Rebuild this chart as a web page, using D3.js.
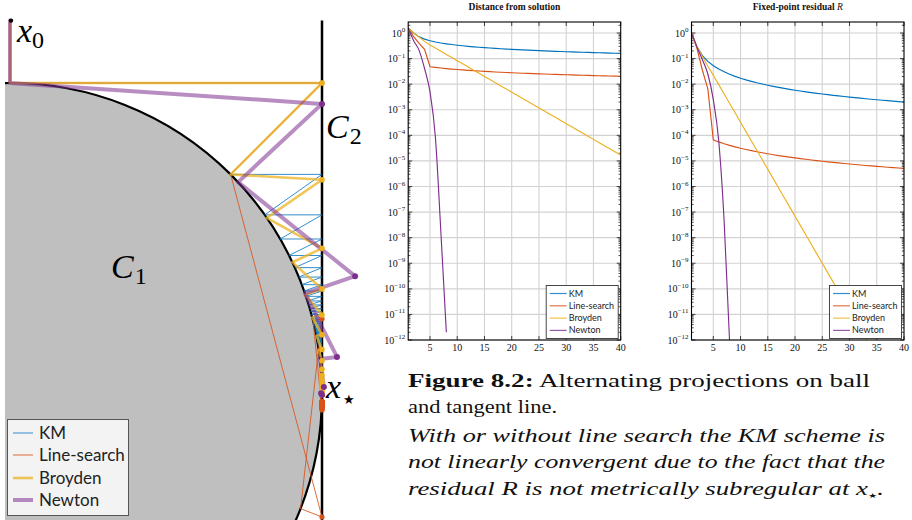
<!DOCTYPE html>
<html><head><meta charset="utf-8">
<script src="https://cdn.jsdelivr.net/npm/d3@7"></script>
<style>
body{margin:0;background:#fff}
svg{display:block}
</style>
</head><body>
<svg id="fig" width="912" height="520"></svg>
<script>
// ---------------- data ----------------
const methods = ["KM", "Line-search", "Broyden", "Newton"];
const colors  = ["#0072BD", "#D95319", "#EDB120", "#7E2F8E"];

// distance from solution, per iteration (iteration 1 = starting point)
const distKM = [1.562, 1.000, .7071, .5774, .5000, .4472, .4082, .3780, .3536, .3333,
  .3162, .3015, .2887, .2774, .2673, .2582, .2500, .2425, .2357, .2294,
  .2236, .2182, .2132, .2085, .2041, .2000, .1961, .1925, .1890, .1857,
  .1826, .1796, .1768, .1741, .1715, .1690, .1667, .1644, .1622, .1601];
const distLineSearch = [1.562, 0.72, 0.39, 0.23, 0.048, .04516, .04277, .04073, .03895, .03738,
  .0360, .03475, .03363, .0326, .03167, .03081, .03002, .02929, .0286, .02797,
  .02737, .02681, .02628, .02579, .02532, .02487, .02445, .02405, .02367, .0233,
  .02295, .02262, .0223, .022, .0217, .02142, .02115, .02089, .02064, .02039];
const distBroyden = [1.562, 1.0, 0.69, 0.47, 0.34, .2564, .1932, .1456, .1096, .0826,
  .0622, .0469, .0353, .0266, .02004, .0151, .01138, .00857, .00646, .00486,
  .00366, .00276, .00208, .001567, .00118, .000889, .00067, .000505, .00038, .000286,
  .000216, .0001626, .0001225, 9.23e-5, 6.95e-5, 5.24e-5, 3.94e-5, 2.97e-5, 2.24e-5, 1.69e-5];
const distNewton = [1.562, 0.5, 0.21, 0.041, 0.005, 8e-5, 1.6e-8, 2e-12];

// fixed-point residual R, per iteration
const resKM = [1.02, .293, .130, .0774, .0528, .0390, .0303, .0244, .0202, .0171,
  .0147, .0128, .0113, .0101, .00906, .0082, .00746, .00683, .00629, .00581,
  .00539, .00501, .00468, .00439, .00412, .00388, .00366, .00347, .00329, .00312,
  .00297, .00283, .0027, .00258, .00247, .00236, .00227, .00218, .00209, .00201];
const resLineSearch = [1.02, 0.25, 0.035, 0.0065, 6.64e-5, 5.53e-5, 4.69e-5, 4.05e-5, 3.55e-5, 3.13e-5,
  2.80e-5, 2.52e-5, 2.28e-5, 2.08e-5, 1.91e-5, 1.75e-5, 1.62e-5, 1.51e-5, 1.40e-5, 1.31e-5,
  1.23e-5, 1.16e-5, 1.09e-5, 1.03e-5, 9.74e-6, 9.23e-6, 8.77e-6, 8.35e-6, 7.96e-6, 7.59e-6,
  7.25e-6, 6.94e-6, 6.65e-6, 6.39e-6, 6.13e-6, 5.90e-6, 5.68e-6, 5.47e-6, 5.27e-6, 5.09e-6];
const resBroyden = [1.02, 0.293, 0.12, 0.05, 0.0224, 9.61e-3, 4.12e-3, 1.768e-3, 7.59e-4, 3.255e-4,
  1.396e-4, 5.99e-5, 2.57e-5, 1.103e-5, 4.73e-6, 2.03e-6, 8.71e-7, 3.74e-7, 1.603e-7, 6.88e-8,
  2.95e-8, 1.266e-8, 5.43e-9, 2.33e-9, 1.0e-9, 4.29e-10, 1.84e-10, 7.9e-11, 3.39e-11, 1.454e-11,
  6.24e-12, 2.68e-12, 1.15e-12, 4.93e-13, 2.11e-13, 9.1e-14, 3.9e-14, 1.68e-14, 7.2e-15, 3.1e-15];
const resNewton = [1.02, 0.28, 0.09, 0.025, 2.5e-3, 6e-5, 4e-8, 8e-13];

const yTickExponents = [0, -1, -2, -3, -4, -5, -6, -7, -8, -9, -10, -11, -12];
const xTickValues = [5, 10, 15, 20, 25, 30, 35, 40];

// iterates in the plane: ball C1 = unit disc, C2 = tangent line x = 1
const startPoint = [0, 1.2];
const kmHeights = distKM.slice(1);               // KM iterates lie on C2 at these heights
const broydenHeights = distBroyden.slice(1);     // Broyden iterates on C2
const lineSearchHeights = [1.0, -0.391, 0.244].concat(distLineSearch.slice(4).map(d => -d));
const newtonIterates = [[1, 0.933], [1.106, 0.381], [1.048, 0.122], [1.006, 0.026], [0.997, 0.006], [1, 0]];

// ---------------- figure ----------------
const svg = d3.select("#fig");
const serif = "'Liberation Serif', 'DejaVu Serif', serif";
const sans = "Lato, 'Open Sans', sans-serif";

// ===== left panel: alternating projections =====
const px = d3.scaleLinear().domain([0, 1]).range([10, 322]);
const py = d3.scaleLinear().domain([0, 1]).range([395, 83]);

svg.append("clipPath").attr("id", "panelClip")
  .append("rect").attr("x", 5).attr("y", 0).attr("width", 380).attr("height", 520);
const panel = svg.append("g").attr("clip-path", "url(#panelClip)");

// ball C1
panel.append("circle")
  .attr("cx", px(0)).attr("cy", py(0)).attr("r", px(1) - px(0))
  .attr("fill", "#bfbfbf").attr("stroke", "#000").attr("stroke-width", 2.2);
// tangent line C2
panel.append("line")
  .attr("x1", px(1)).attr("x2", px(1)).attr("y1", py(1.2)).attr("y2", py(-0.5))
  .attr("stroke", "#000").attr("stroke-width", 2.5);

const projBall = p => { const n = Math.hypot(p[0], p[1]); return n > 1 ? [p[0] / n, p[1] / n] : p; };
// x0 -> P(x0) -> x1 -> P(x1) -> ...
function trajectory(iterates) {
  const pts = [];
  iterates.forEach((p, i) => { pts.push(p); if (i < iterates.length - 1) pts.push(projBall(p)); });
  return pts;
}
const onLine = h => [1, h];
const panelStyles = [
  { pts: [startPoint].concat(kmHeights.map(onLine)), w: 1.0, op: 0.8, dot: 0 },
  { pts: [startPoint].concat(lineSearchHeights.map(onLine)), w: 1.0, op: 0.85, dot: 2.6 },
  { pts: [startPoint].concat(broydenHeights.map(onLine)), w: 2.6, op: 0.75, dot: 2.8 },
  { pts: [startPoint].concat(newtonIterates), w: 4.0, op: 0.55, dot: 3.0 }
];
const pline = d3.line().x(d => px(d[0])).y(d => py(d[1]));
panelStyles.forEach((s, i) => {
  panel.append("path").attr("d", pline(trajectory(s.pts)))
    .attr("fill", "none").attr("stroke", colors[i]).attr("stroke-width", s.w)
    .attr("stroke-opacity", s.op).attr("stroke-linejoin", "round").attr("stroke-linecap", "round");
});
panelStyles.forEach((s, i) => {
  if (!s.dot) return;
  panel.append("g").selectAll("circle").data(s.pts.slice(1)).join("circle")
    .attr("cx", d => px(d[0])).attr("cy", d => py(d[1])).attr("r", s.dot)
    .attr("fill", colors[i]);
});
panel.append("circle").attr("cx", px(startPoint[0]) + 1).attr("cy", py(startPoint[1]))
  .attr("r", 2.2).attr("fill", "#000");

// math labels
function mathLabel(x, y, main, sub, subFont, subSize, subDx) {
  const t = svg.append("text").attr("x", x).attr("y", y)
    .attr("font-family", serif).attr("font-style", "italic").attr("font-size", 34);
  t.append("tspan").text(main);
  t.append("tspan").attr("dx", subDx || 0).attr("dy", 6)
    .attr("font-style", "normal").attr("font-family", subFont || serif)
    .attr("font-size", subSize || 24).text(sub);
}
mathLabel(17, 42, "x", "0");
mathLabel(326, 138, "C", "2", null, 24, 1);
mathLabel(111, 278, "C", "1", null, 24, 1);
mathLabel(326, 398, "x", "★", "'DejaVu Sans', sans-serif", 13, 2);

// legend of the panel
const lg = svg.append("g");
lg.append("rect").attr("x", 7.5).attr("y", 419.5).attr("width", 121).attr("height", 96)
  .attr("fill", "#f3f3f3").attr("stroke", "#555").attr("stroke-width", 1);
const lgY = [433, 455, 478, 500];
methods.forEach((m, i) => {
  lg.append("line").attr("x1", 13).attr("x2", 33).attr("y1", lgY[i]).attr("y2", lgY[i])
    .attr("stroke", colors[i]).attr("stroke-width", panelStyles[i].w)
    .attr("stroke-opacity", panelStyles[i].op);
  lg.append("text").attr("x", 39).attr("y", lgY[i] + 6).attr("font-family", sans)
    .attr("font-size", 17).attr("fill", "#222").text(m);
});

// ===== convergence plots =====
function convergencePlot(opts) {
  const { left, right, id, series, title } = opts;
  const top = 22, bottom = 340;
  const x = d3.scaleLinear().domain([1, 40]).range([left, right]);
  const y = d3.scaleLog().domain([1e-12, Math.pow(10, 0.43)]).range([bottom, top]);
  const g = svg.append("g");

  // grid
  g.append("g").selectAll("line").data(yTickExponents).join("line")
    .attr("x1", left).attr("x2", right)
    .attr("y1", e => y(Math.pow(10, e))).attr("y2", e => y(Math.pow(10, e)))
    .attr("stroke", "#d2d2d2").attr("stroke-width", 1.1);
  g.append("g").selectAll("line").data(xTickValues.slice(0, -1)).join("line")
    .attr("x1", d => x(d)).attr("x2", d => x(d)).attr("y1", top).attr("y2", bottom)
    .attr("stroke", "#d2d2d2").attr("stroke-width", 1.1);

  // ticks
  const minor = [];
  yTickExponents.forEach(e => { for (let m = 2; m <= 9; m++) { const v = m * Math.pow(10, e); if (y(v) >= top) minor.push(v); } });
  const tk = g.append("g").attr("stroke", "#000").attr("stroke-width", 0.7);
  [left, right].forEach((x0, side) => {
    const dir = side === 0 ? 1 : -1;
    tk.append("g").selectAll("line").data(yTickExponents).join("line")
      .attr("x1", x0).attr("x2", x0 + dir * 4)
      .attr("y1", e => y(Math.pow(10, e))).attr("y2", e => y(Math.pow(10, e)));
    tk.append("g").selectAll("line").data(minor).join("line")
      .attr("x1", x0).attr("x2", x0 + dir * 2.2)
      .attr("y1", v => y(v)).attr("y2", v => y(v));
  });
  [bottom, top].forEach((y0, side) => {
    const dir = side === 0 ? -1 : 1;
    tk.append("g").selectAll("line").data(xTickValues).join("line")
      .attr("x1", d => x(d)).attr("x2", d => x(d)).attr("y1", y0).attr("y2", y0 + dir * 4);
  });

  // data lines
  g.append("clipPath").attr("id", id)
    .append("rect").attr("x", left).attr("y", top).attr("width", right - left).attr("height", bottom - top);
  const lines = g.append("g").attr("clip-path", `url(#${id})`);
  series.forEach((vals, i) => {
    const ln = d3.line().x((d, k) => x(k + 1)).y(d => y(d))
      .curve(i === 3 ? d3.curveMonotoneX : d3.curveLinear);
    lines.append("path").attr("d", ln(vals)).attr("fill", "none")
      .attr("stroke", colors[i]).attr("stroke-width", 1.15);
  });

  // frame
  g.append("rect").attr("x", left).attr("y", top).attr("width", right - left).attr("height", bottom - top)
    .attr("fill", "none").attr("stroke", "#000").attr("stroke-width", 1.1);

  // tick labels
  const yl = g.append("g").attr("font-family", serif).attr("font-size", 10).attr("fill", "#111");
  yTickExponents.forEach(e => {
    const t = yl.append("text").attr("x", left - 3).attr("y", y(Math.pow(10, e)) + 3.5)
      .attr("text-anchor", "end");
    t.append("tspan").text("10");
    t.append("tspan").attr("dy", -4.5).attr("font-size", 7).text(e === 0 ? "0" : "\u2212" + (-e));
  });
  g.append("g").attr("font-family", serif).attr("font-size", 10).attr("fill", "#111")
    .selectAll("text").data(xTickValues).join("text")
    .attr("x", d => x(d)).attr("y", bottom + 11).attr("text-anchor", "middle").text(d => d);

  // title
  const tt = g.append("text").attr("x", (left + right) / 2).attr("y", 10)
    .attr("text-anchor", "middle").attr("font-family", serif).attr("font-weight", "bold")
    .attr("font-size", 9.5).attr("fill", "#111");
  title.forEach(p => tt.append("tspan").attr("font-style", p.italic ? "italic" : "normal")
    .attr("font-weight", p.italic ? "normal" : "bold").text(p.text));

  // legend
  const lx = right - 75, ly = 285;
  const leg = g.append("g");
  leg.append("rect").attr("x", lx + 0.5).attr("y", ly + 0.5).attr("width", 72).attr("height", 53)
    .attr("fill", "#fff").attr("stroke", "#333").attr("stroke-width", 0.9);
  methods.forEach((m, i) => {
    const yy = ly + 8.5 + i * 12.3;
    leg.append("line").attr("x1", lx + 4).attr("x2", lx + 21).attr("y1", yy).attr("y2", yy)
      .attr("stroke", colors[i]).attr("stroke-width", 1.2).attr("stroke-opacity", 0.8);
    leg.append("text").attr("x", lx + 23).attr("y", yy + 3).attr("font-family", sans)
      .attr("font-size", 9).attr("fill", "#222").text(m);
  });
}

convergencePlot({ left: 408.2, right: 620.7, id: "clipDist",
  series: [distKM, distLineSearch, distBroyden, distNewton],
  title: [{ text: "Distance from solution" }] });
convergencePlot({ left: 691.5, right: 904, id: "clipRes",
  series: [resKM, resLineSearch, resBroyden, resNewton],
  title: [{ text: "Fixed-point residual " }, { text: "R", italic: true }] });

// ===== caption =====
const cap = svg.append("g").attr("font-family", serif).attr("font-size", 18).attr("fill", "#111");
const capLines = [
  { y: 387, w: 462, parts: [{ t: "Figure 8.2:", b: true }, { t: " Alternating projections on ball" }] },
  { y: 413, w: 149, parts: [{ t: "and tangent line." }] },
  { y: 442, w: 477, parts: [{ t: "With or without line search the KM scheme is", i: true }] },
  { y: 468, w: 477, parts: [{ t: "not linearly convergent due to the fact that the", i: true }] },
  { y: 495, w: 476, parts: [{ t: "residual R is not metrically subregular at x", i: true }, { t: "\u2605", sub: true }, { t: ".", i: true }] }
];
capLines.forEach(l => {
  const t = cap.append("text").attr("x", 408).attr("y", l.y)
    .attr("textLength", l.w).attr("lengthAdjust", "spacingAndGlyphs");
  l.parts.forEach(p => {
    const s = t.append("tspan").text(p.t);
    if (p.b) s.attr("font-weight", "bold");
    if (p.i) s.attr("font-style", "italic");
    if (p.sub) s.attr("font-family", "'DejaVu Sans', sans-serif").attr("font-size", 7).attr("dy", 3);
  });
  if (l.parts.some(p => p.sub)) t.select("tspan:last-child").attr("dy", -3);
});
</script>
</body></html>
